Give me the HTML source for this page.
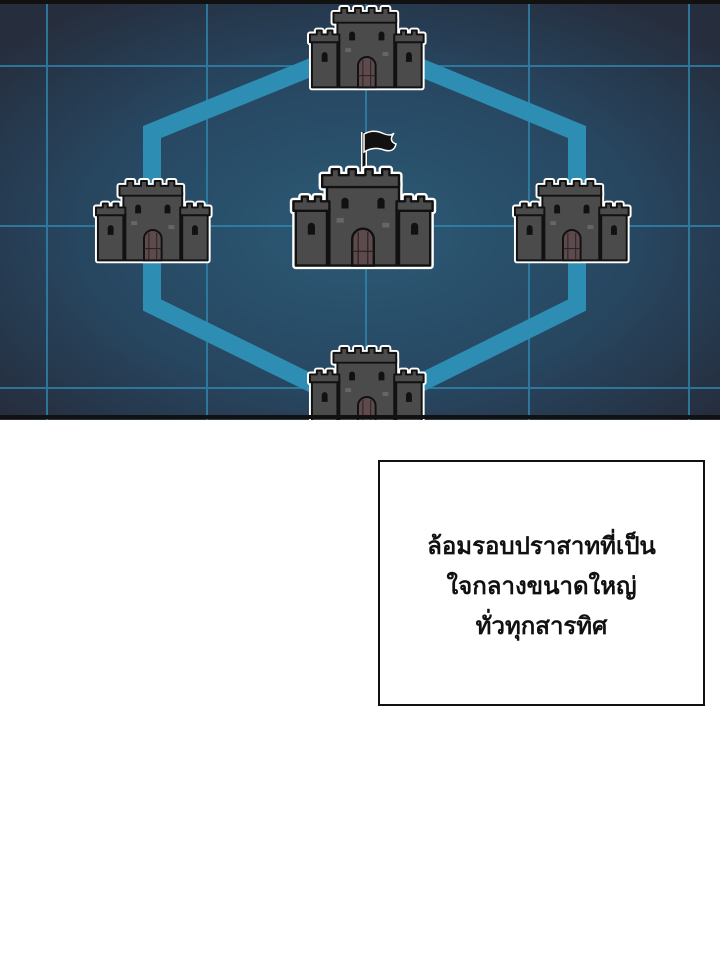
<!DOCTYPE html>
<html><head><meta charset="utf-8"><style>
html,body{margin:0;padding:0;background:#fff;width:720px;height:955px;overflow:hidden}
.box{position:absolute;left:378px;top:460px;width:323px;height:242px;border:2px solid #111;box-sizing:content-box;}
.txt{position:absolute;left:378px;top:527px;width:327px;text-align:center;font-family:"Liberation Sans","Noto Sans CJK SC",sans-serif;font-weight:bold;font-size:24px;line-height:40px;color:#111}
</style></head><body>
<svg width="720" height="420" style="position:absolute;left:0;top:0">
<defs>
<radialGradient id="bg" cx="50%" cy="55%" r="65%">
<stop offset="0" stop-color="#2b5a76"/><stop offset="0.6" stop-color="#274660"/><stop offset="1" stop-color="#262e3e"/>
</radialGradient>
<g id="cs">
 <path d="M4 34h28v48H4zM88 34h28v48H88zM30 12h60v70H30z"/>
 <path d="M2 28h7v-4h5v4h6v-4h5v4h7v8H2zM88 28h7v-4h5v4h6v-4h5v4h7v8H88zM26 6h8v-5h6v5h8v-5h6v5h8v-5h6v5h8v-5h6v5h8v10H26z"/>
</g>
<g id="castle">
 <use href="#cs" fill="#fff" stroke="#fff" stroke-width="6" stroke-linejoin="round"/>
 <use href="#cs" fill="#4b4b4b" stroke="#111" stroke-width="2" stroke-linejoin="round"/>
 <path d="M51 82V60a9 9 0 0 1 18 0v22z" fill="#5e4a4c" stroke="#111" stroke-width="2"/>
 <path d="M56 54v28M64 54v28M51 70h18" stroke="#222" stroke-width="1"/>
 <path d="M42 34v-6a3 3 0 0 1 6 0v6zM72 34v-6a3 3 0 0 1 6 0v6zM14 56v-7a3 3 0 0 1 6 0v7zM100 56v-7a3 3 0 0 1 6 0v7z" fill="#111"/>
 <rect x="38" y="42" width="6" height="4" fill="#666"/><rect x="76" y="46" width="6" height="4" fill="#666"/>
</g>
</defs>
<rect width="720" height="420" fill="url(#bg)"/>
<g stroke="#2f86ad" stroke-width="2" opacity="0.8">
<path d="M47 0V420M207 0V420M366 0V420M529 0V420M689 0V420M0 66H720M0 226H720M0 388H720"/>
</g>
<path d="M366 45L152 132V305L366 410L577 305V132Z" fill="none" stroke="#2e8db3" stroke-width="18"/>
<use href="#castle" transform="translate(308,7) scale(0.98)"/>
<use href="#castle" transform="translate(94,180) scale(0.98)"/>
<use href="#castle" transform="translate(513,180) scale(0.98)"/>
<use href="#castle" transform="translate(308,347) scale(0.98)"/>
<g>
<path d="M364 172V132" stroke="#fff" stroke-width="6"/>
<path d="M364 174V132" stroke="#111" stroke-width="3"/>
<path d="M364 134q9-5 18-1t12 0q-6 8 2 11q-2 9-12 6q-10-4-20 2z" fill="#111" stroke="#fff" stroke-width="1.5"/>
<use href="#castle" transform="translate(291,168) scale(1.2,1.19)"/>
</g>
<rect x="0" y="0" width="720" height="4" fill="#111"/>
<rect x="0" y="415" width="720" height="4" fill="#111"/>
</svg>
<div class="box"></div>
<div class="txt">ล้อมรอบปราสาทที่เป็น<br>ใจกลางขนาดใหญ่<br>ทั่วทุกสารทิศ</div>
</body></html>
